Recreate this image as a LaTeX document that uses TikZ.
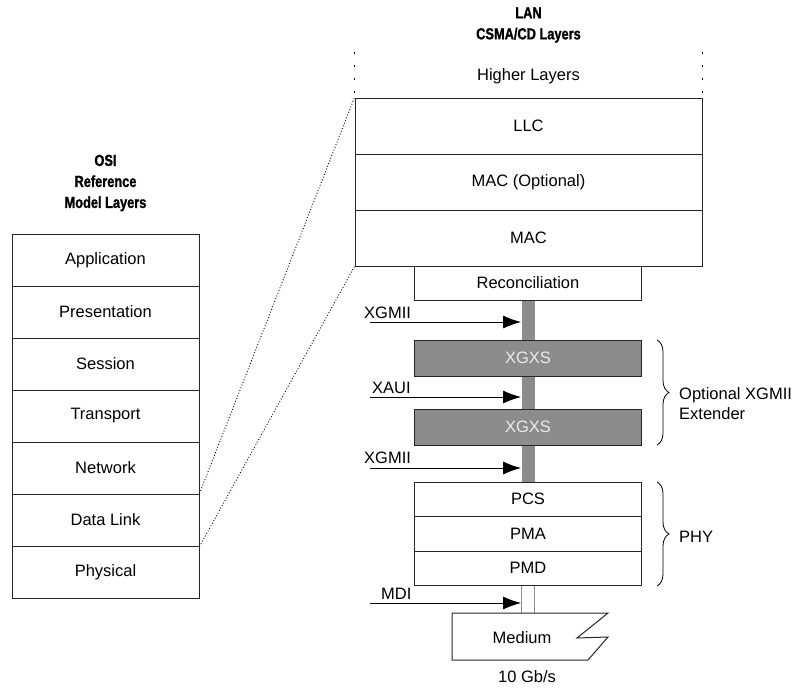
\documentclass[tikz,border=0pt]{standalone}
\usepackage{fontspec}
\setmainfont{Liberation Sans}
\newfontfamily\headfont{Liberation Sans}[FakeStretch=0.8, BoldFeatures={FakeBold=1.2}]
\usetikzlibrary{arrows.meta,decorations.pathreplacing}

\begin{document}
\begin{tikzpicture}[x=1pt, y=-1pt,
    font=\fontsize{16.5}{20}\selectfont,
    box/.style={draw=black!85, line width=1pt, inner sep=0pt},
    osibox/.style={box, minimum width=187, minimum height=52},
    lanbox/.style={box, minimum width=347, minimum height=56},
    phybox/.style={box, minimum width=227, minimum height=34.5},
    xgxsbox/.style={box, fill=black!45, text=black!8, minimum width=227, minimum height=36},
    bar/.style={fill=black!45},
    inarrow/.style={line width=0.8pt, -{Latex[length=18pt,width=13pt]}},
    dots/.style={line width=1.6pt, dash pattern=on 1.6pt off 11.4pt},
    head/.style={font=\headfont\bfseries\fontsize{16}{21}\selectfont, align=center}]
    \useasboundingbox (0,0) rectangle (805,694);

    % OSI layers
    \node[head] (osihead) at (105.5,183) {OSI\\Reference\\Model Layers};
    \foreach \name/\txt [count=\i] in {app/Application, pres/Presentation,
        sess/Session, trans/Transport, net/Network, dl/Data Link, phys/Physical}
        \node[osibox] (\name) at (105.5,208+52*\i) {\txt};

    % LAN layers
    \node[head] (lanhead) at (528.5,25) {LAN\\CSMA/CD Layers};
    \node (higher) at (528.5,76) {Higher Layers};
    \node[lanbox] (llc) at (528.5,126) {LLC};
    \node[lanbox] (macopt) at (528.5,182) {MAC (Optional)};
    \node[lanbox] (mac) at (528.5,238) {MAC};
    \draw[dots] ([yshift=5pt]llc.north west) -- ([yshift=46pt]llc.north west);
    \draw[dots] ([yshift=5pt]llc.north east) -- ([yshift=46pt]llc.north east);

    % Data Link mapping
    \draw[dotted, line width=0.9pt] (dl.north east) -- (llc.north west);
    \draw[dotted, line width=0.9pt] (dl.south east) -- (mac.south west);

    % PHY stack
    \node[box, minimum width=227, minimum height=34] (recon) at (528,283) {Reconciliation};
    \node[xgxsbox] (xgxsA) at (528,358) {XGXS};
    \node[xgxsbox] (xgxsB) at (528,427) {XGXS};
    \node[phybox] (pcs) at (528,499.25) {PCS};
    \node[phybox] (pma) at (528,533.75) {PMA};
    \node[phybox] (pmd) at (528,568.25) {PMD};

    \fill[bar] ([xshift=-6.5pt]recon.south) rectangle ([xshift=6.5pt]xgxsA.north);
    \fill[bar] ([xshift=-6.5pt]xgxsA.south) rectangle ([xshift=6.5pt]xgxsB.north);
    \fill[bar] ([xshift=-6.5pt]xgxsB.south) rectangle ([xshift=6.5pt]pcs.north);

    % Interfaces
    \coordinate (bar) at (521,0);
    \coordinate (xgmiiA) at (370,322);
    \coordinate (xaui) at (370,397);
    \coordinate (xgmiiB) at (370,468);
    \coordinate (mdi) at (370,603);
    \draw[inarrow] (xgmiiA) -- (xgmiiA -| bar);
    \draw[inarrow] (xaui) -- (xaui -| bar);
    \draw[inarrow] (xgmiiB) -- (xgmiiB -| bar);
    \draw[inarrow] (mdi) -- (mdi -| bar);
    \node[anchor=base west, inner sep=0pt] (xgmiiAlbl) at (364,318) {XGMII};
    \node[anchor=base west, inner sep=0pt] (xauilbl) at (372,393) {XAUI};
    \node[anchor=base west, inner sep=0pt] (xgmiiBlbl) at (364,463) {XGMII};
    \node[anchor=base west, inner sep=0pt] (mdilbl) at (381,599) {MDI};

    % Medium
    \coordinate (medtop) at (528,613);
    \draw[black!45, line width=0.8pt] ([xshift=-6.5pt]pmd.south) -- ([xshift=-6.5pt]medtop);
    \draw[black!45, line width=0.8pt] ([xshift=6.5pt]pmd.south) -- ([xshift=6.5pt]medtop);
    \draw[black!85, line width=1pt] (452,613) -- (608,613) -- (577,638) -- (608,637)
        -- (588,660) -- (452,660) -- cycle;
    \node (medium) at (522,638) {Medium};
    \node (rate) at (527,677) {10 Gb/s};

    % Braces
    \draw[line width=0.8pt, decorate, decoration={brace, amplitude=12pt}]
        (657,340) -- (657,445);
    \draw[line width=0.8pt, decorate, decoration={brace, amplitude=12pt}]
        (657,482) -- (657,586);
    \node[anchor=west, align=left, inner sep=0pt] (extlbl) at (679,404) {Optional XGMII\\Extender};
    \node[anchor=west, inner sep=0pt] (phylbl) at (679,537) {PHY};
\end{tikzpicture}
\end{document}
